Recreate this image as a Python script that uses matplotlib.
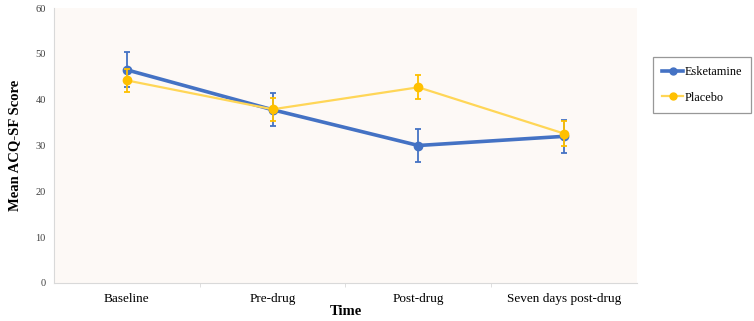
import matplotlib
matplotlib.use("Agg")
import matplotlib.pyplot as plt
from matplotlib.lines import Line2D
import numpy as np

categories = ["Baseline", "Pre-drug", "Post-drug", "Seven days post-drug"]
esketamine = [46.5, 37.8, 30.0, 32.0]
esketamine_err = [3.8, 3.6, 3.7, 3.6]
placebo = [44.2, 37.9, 42.7, 32.6]
placebo_err = [2.6, 2.5, 2.6, 2.8]
yticks = [0, 10, 20, 30, 40, 50, 60]

plt.rcParams['font.family'] = ['Liberation Serif', 'DejaVu Serif']

fig = plt.figure(figsize=(7.54, 3.21), dpi=100)
ax = fig.add_axes([54/754, 38/321, 583/754, 275/321])
ax.set_facecolor("#FDF9F6")

x = np.arange(len(categories))
blue = "#4472C4"
yellow = "#FFC000"
yline = "#FFD657"

ax.errorbar(x, esketamine, yerr=esketamine_err, color=blue, lw=2.6,
            marker="o", ms=6, mfc=blue, mec=blue, ecolor=blue,
            elinewidth=1.3, capsize=2.5, capthick=1.3, zorder=2)
ax.errorbar(x, placebo, yerr=placebo_err, color=yline, lw=1.6,
            marker="o", ms=6, mfc=yellow, mec=yellow, ecolor=yellow,
            elinewidth=1.3, capsize=2.5, capthick=1.3, zorder=3)

ax.set_xlim(-0.5, 3.5)
ax.set_ylim(0, 60)
ax.set_yticks(yticks)
ax.set_xticks(x)
ax.set_xticklabels(categories, fontsize=9.5)
ax.set_xticks([0.5, 1.5, 2.5], minor=True)
ax.tick_params(axis="x", which="major", length=0, pad=7)
ax.tick_params(axis="x", which="minor", length=3, color="#D9D9D9")
ax.tick_params(axis="y", length=0, labelsize=7.5, labelcolor="#404040", pad=6)
for s in ["top", "right"]:
    ax.spines[s].set_visible(False)
for s in ["left", "bottom"]:
    ax.spines[s].set_color("#D9D9D9")
    ax.spines[s].set_linewidth(0.8)

ax.set_xlabel("Time", fontsize=10.5, fontweight="bold", labelpad=0)
ax.set_ylabel("Mean ACQ-SF Score", fontsize=10.5, fontweight="bold", labelpad=10)

handles = [
    Line2D([], [], color=blue, lw=2.6, marker="o", ms=5, mfc=blue, mec=blue),
    Line2D([], [], color=yline, lw=1.6, marker="o", ms=5, mfc=yellow, mec=yellow),
]
leg = fig.legend(handles, ["Esketamine", "Placebo"],
                 loc="upper left", bbox_to_anchor=(653/754, 1 - 57/321),
                 fontsize=8.8, frameon=True, fancybox=False, edgecolor="#7F7F7F",
                 handlelength=1.7, handletextpad=0.1, labelspacing=1.1,
                 borderpad=0.75, borderaxespad=0)
leg.get_frame().set_linewidth(0.9)

fig.savefig("out.png", dpi=100)
